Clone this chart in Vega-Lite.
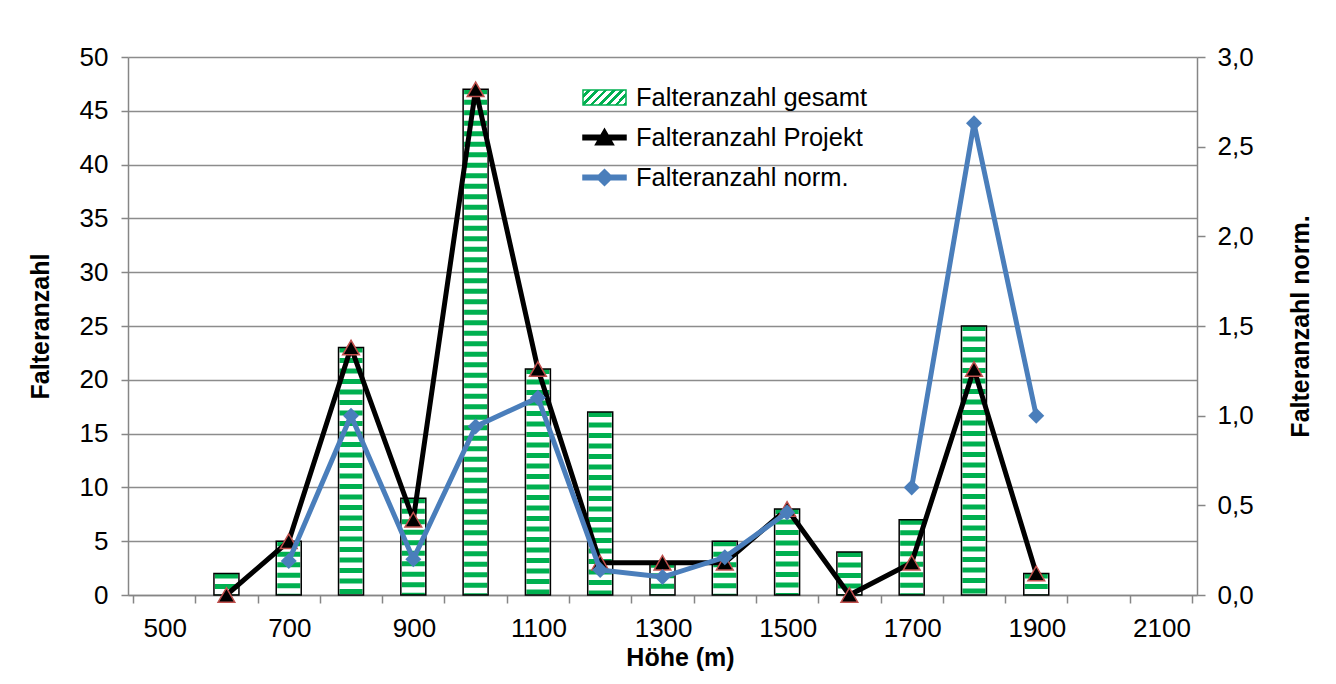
{
  "$schema": "https://vega.github.io/schema/vega-lite/v6.json",
  "width": 1069,
  "height": 538,
  "autosize": {"type": "none"},
  "padding": {"left": 128, "top": 57, "right": 139, "bottom": 89},
  "background": "white",
  "config": {
    "font": "Liberation Sans",
    "view": {"stroke": null},
    "axis": {
      "labelColor": "#000000",
      "titleColor": "#000000",
      "labelFontSize": 26,
      "titleFontSize": 25,
      "titleFontWeight": "bold",
      "domainColor": "#868686",
      "domainWidth": 1.5,
      "tickColor": "#868686",
      "tickWidth": 1.5,
      "gridColor": "#8C8C8C",
      "gridWidth": 1.5
    }
  },
  "data": {
    "values": [
      {"h": 600, "gesamt": 2, "projekt": 0, "norm": null, "seg": null},
      {"h": 700, "gesamt": 5, "projekt": 5, "norm": 0.19, "seg": "a"},
      {"h": 800, "gesamt": 23, "projekt": 23, "norm": 1.0, "seg": "a"},
      {"h": 900, "gesamt": 9, "projekt": 7, "norm": 0.2, "seg": "a"},
      {"h": 1000, "gesamt": 47, "projekt": 47, "norm": 0.94, "seg": "a"},
      {"h": 1100, "gesamt": 21, "projekt": 21, "norm": 1.1, "seg": "a"},
      {"h": 1200, "gesamt": 17, "projekt": 3, "norm": 0.14, "seg": "a"},
      {"h": 1300, "gesamt": 3, "projekt": 3, "norm": 0.1, "seg": "a"},
      {"h": 1400, "gesamt": 5, "projekt": 3, "norm": 0.21, "seg": "a"},
      {"h": 1500, "gesamt": 8, "projekt": 8, "norm": 0.46, "seg": "a"},
      {"h": 1600, "gesamt": 4, "projekt": 0, "norm": null, "seg": null},
      {"h": 1700, "gesamt": 7, "projekt": 3, "norm": 0.6, "seg": "b"},
      {"h": 1800, "gesamt": 25, "projekt": 21, "norm": 2.63, "seg": "b"},
      {"h": 1900, "gesamt": 2, "projekt": 2, "norm": 1.0, "seg": "b"}
    ]
  },
  "encoding": {
    "x": {
      "field": "h",
      "type": "quantitative",
      "title": "Höhe (m)",
      "scale": {"domain": [450, 2150], "nice": false, "zero": false},
      "axis": {
        "values": [450, 550, 650, 750, 850, 950, 1050, 1150, 1250, 1350, 1450, 1550, 1650, 1750, 1850, 1950, 2050, 2150],
        "labelExpr": "(datum.value - 450) % 200 == 0 ? '' + (datum.value + 50) : ''",
        "labelOffset": 31.75,
        "labelFlush": false,
        "labelOverlap": false,
        "grid": false,
        "tickSize": 8,
        "labelPadding": 12,
        "titleX": 552,
        "titleY": 50,
        "titleBaseline": "top"
      }
    }
  },
  "layer": [
    {
      "mark": {"type": "bar", "size": 25, "fill": "#ffffff", "stroke": null},
      "encoding": {
        "y": {
          "field": "gesamt",
          "type": "quantitative",
          "scale": {"domain": [0, 50], "nice": false},
          "title": "Falteranzahl",
          "axis": {
            "values": [0, 5, 10, 15, 20, 25, 30, 35, 40, 45, 50],
            "grid": true,
            "tickSize": 7,
            "labelPadding": 13,
            "titleAngle": -90,
            "titleX": -88,
            "titleY": 269,
            "titleBaseline": "middle",
            "titleAlign": "center"
          }
        }
      }
    },
    {
      "mark": {"type": "rule", "strokeWidth": 23, "strokeDash": [5, 5.5], "strokeCap": "butt"},
      "encoding": {
        "y": {"field": "gesamt", "type": "quantitative", "scale": {"domain": [0, 50], "nice": false}, "axis": null},
        "y2": {"datum": 0},
        "color": {
          "datum": "Falteranzahl gesamt",
          "scale": {"domain": ["Falteranzahl gesamt", "Falteranzahl Projekt", "Falteranzahl norm."], "range": ["#00B050", "#000000", "#4A7EBB"]},
          "legend": {
            "title": null,
            "orient": "none",
            "legendX": 454,
            "legendY": 18,
            "padding": 0,
            "labelFontSize": 25.5,
            "labelColor": "#000000",
            "labelLimit": 500,
            "labelOffset": 9,
            "symbolSize": 1849,
            "rowPadding": 4,
            "encode": {
              "symbols": {
                "update": {
                  "shape": {"signal": "datum.value === 'Falteranzahl gesamt' ? 'M-1,-0.35H1V0.35H-1Z' : datum.value === 'Falteranzahl Projekt' ? 'M-1,-0.11H-0.165L0,-0.4L0.165,-0.11H1V0.11H0.289L0.42,0.34H-0.42L-0.289,0.11H-1Z' : 'M-1,-0.11H-0.26L0,-0.37L0.26,-0.11H1V0.11H0.26L0,0.37L-0.26,0.11H-1Z'"},
                  "fill": [
                    {"test": "datum.value === 'Falteranzahl gesamt'", "value": {"gradient": "linear", "x1": 0, "y1": 0, "x2": 1.2026, "y2": 0.42, "stops": [
                      {"offset": 0, "color": "#ffffff"}, {"offset": 0.0786, "color": "#ffffff"},
                      {"offset": 0.0786, "color": "#00B050"}, {"offset": 0.1429, "color": "#00B050"},
                      {"offset": 0.1429, "color": "#ffffff"}, {"offset": 0.2214, "color": "#ffffff"},
                      {"offset": 0.2214, "color": "#00B050"}, {"offset": 0.2857, "color": "#00B050"},
                      {"offset": 0.2857, "color": "#ffffff"}, {"offset": 0.3643, "color": "#ffffff"},
                      {"offset": 0.3643, "color": "#00B050"}, {"offset": 0.4286, "color": "#00B050"},
                      {"offset": 0.4286, "color": "#ffffff"}, {"offset": 0.5071, "color": "#ffffff"},
                      {"offset": 0.5071, "color": "#00B050"}, {"offset": 0.5714, "color": "#00B050"},
                      {"offset": 0.5714, "color": "#ffffff"}, {"offset": 0.65, "color": "#ffffff"},
                      {"offset": 0.65, "color": "#00B050"}, {"offset": 0.7143, "color": "#00B050"},
                      {"offset": 0.7143, "color": "#ffffff"}, {"offset": 0.7929, "color": "#ffffff"},
                      {"offset": 0.7929, "color": "#00B050"}, {"offset": 0.8571, "color": "#00B050"},
                      {"offset": 0.8571, "color": "#ffffff"}, {"offset": 0.9357, "color": "#ffffff"},
                      {"offset": 0.9357, "color": "#00B050"}, {"offset": 1, "color": "#00B050"}
                    ]}},
                    {"test": "datum.value === 'Falteranzahl Projekt'", "value": "#000000"},
                    {"value": "#4A7EBB"}
                  ],
                  "stroke": [
                    {"test": "datum.value === 'Falteranzahl gesamt'", "value": "#000000"},
                    {"value": "transparent"}
                  ],
                  "strokeWidth": {"value": 1.5},
                  "strokeDash": {"value": []},
                  "opacity": {"value": 1},
                  "fillOpacity": {"value": 1},
                  "strokeOpacity": {"value": 1}
                }
              }
            }
          }
        }
      }
    },
    {
      "mark": {"type": "bar", "size": 25, "fill": "#ffffff", "fillOpacity": 0, "stroke": "#000000", "strokeWidth": 1.5},
      "encoding": {
        "y": {"field": "gesamt", "type": "quantitative", "scale": {"domain": [0, 50], "nice": false}, "axis": null}
      }
    },
    {
      "mark": {"type": "line", "strokeWidth": 5},
      "encoding": {
        "y": {"field": "projekt", "type": "quantitative", "scale": {"domain": [0, 50], "nice": false}, "axis": null},
        "color": {
          "datum": "Falteranzahl Projekt",
          "scale": {"domain": ["Falteranzahl gesamt", "Falteranzahl Projekt", "Falteranzahl norm."], "range": ["#00B050", "#000000", "#4A7EBB"]}
        }
      }
    },
    {
      "mark": {"type": "point", "shape": "triangle-up", "filled": true, "fill": "#000000", "stroke": "#C0504D", "strokeWidth": 1.5, "size": 280, "opacity": 1},
      "encoding": {
        "y": {"field": "projekt", "type": "quantitative", "scale": {"domain": [0, 50], "nice": false}, "axis": null}
      }
    },
    {
      "transform": [{"filter": "isValid(datum.norm)"}],
      "mark": {"type": "line", "strokeWidth": 5},
      "encoding": {
        "y": {
          "field": "norm",
          "type": "quantitative",
          "scale": {"domain": [0, 3], "nice": false},
          "title": "Falteranzahl norm.",
          "axis": {
            "orient": "right",
            "values": [0, 0.5, 1, 1.5, 2, 2.5, 3],
            "labelExpr": "replace(format(datum.value, '.1f'), '.', ',')",
            "grid": false,
            "tickSize": 8,
            "labelPadding": 12,
            "titleAngle": -90,
            "titleX": 103,
            "titleY": 269,
            "titleBaseline": "middle",
            "titleAlign": "center"
          }
        },
        "detail": {"field": "seg"},
        "color": {
          "datum": "Falteranzahl norm.",
          "scale": {"domain": ["Falteranzahl gesamt", "Falteranzahl Projekt", "Falteranzahl norm."], "range": ["#00B050", "#000000", "#4A7EBB"]}
        }
      }
    },
    {
      "transform": [{"filter": "isValid(datum.norm)"}],
      "mark": {"type": "point", "shape": "diamond", "filled": true, "fill": "#4A7EBB", "stroke": null, "size": 256, "opacity": 1},
      "encoding": {
        "y": {"field": "norm", "type": "quantitative", "scale": {"domain": [0, 3], "nice": false}, "axis": null}
      }
    }
  ],
  "resolve": {"scale": {"y": "independent"}}
}
